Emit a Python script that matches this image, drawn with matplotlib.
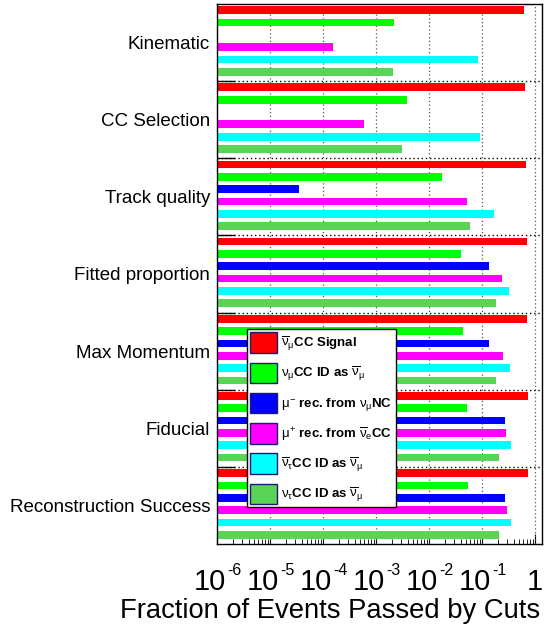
import matplotlib
matplotlib.use("Agg")
import matplotlib.pyplot as plt
from matplotlib.patches import Patch
import numpy as np

plt.rcParams['font.family'] = ['Liberation Sans', 'DejaVu Sans']
plt.rcParams['mathtext.fontset'] = 'custom'
plt.rcParams['mathtext.rm'] = 'Liberation Sans'
plt.rcParams['mathtext.it'] = 'Liberation Sans'
plt.rcParams['mathtext.bf'] = 'Liberation Sans:bold'

# ---- data ----
categories = ["Kinematic", "CC Selection", "Track quality", "Fitted proportion",
              "Max Momentum", "Fiducial", "Reconstruction Success"]

series_labels = [
    r"$\overline{\nu}_{\mu}$CC Signal",
    r"$\nu_{\mu}$CC ID as $\overline{\nu}_{\mu}$",
    r"$\mu^{-}$ rec. from $\nu_{\mu}$NC",
    r"$\mu^{+}$ rec. from $\overline{\nu}_{e}$CC",
    r"$\overline{\nu}_{\tau}$CC ID as $\overline{\nu}_{\mu}$",
    r"$\nu_{\tau}$CC ID as $\overline{\nu}_{\mu}$",
]
series_colors = ["#ff0000", "#00ff00", "#0000ff", "#ff00ff", "#00ffff", "#59d454"]

numu_bar_signal   = [0.62, 0.65, 0.68, 0.71, 0.70, 0.74, 0.74]
numu_cc_misid     = [0.0022, 0.0038, 0.0174, 0.040, 0.044, 0.052, 0.055]
mu_minus_nc       = [1.05e-6, 1.05e-6, 3.5e-5, 0.134, 0.134, 0.27, 0.27]
mu_plus_nuebar_cc = [1.55e-4, 5.9e-4, 0.052, 0.24, 0.25, 0.28, 0.30]
nutaubar_cc_misid = [0.083, 0.091, 0.17, 0.32, 0.34, 0.35, 0.35]
nutau_cc_misid    = [0.0021, 0.0031, 0.059, 0.18, 0.18, 0.21, 0.21]

series_values = [numu_bar_signal, numu_cc_misid, mu_minus_nc,
                 mu_plus_nuebar_cc, nutaubar_cc_misid, nutau_cc_misid]

xtick_values = [1e-6, 1e-5, 1e-4, 1e-3, 1e-2, 1e-1, 1]
xtick_bases = ["10", "10", "10", "10", "10", "10", "1"]
xtick_exponents = ["-6", "-5", "-4", "-3", "-2", "-1", ""]

# ---- figure ----
fig = plt.figure(figsize=(5.51, 6.34), dpi=100)
ax = fig.add_axes([217/551, 1 - 544/634, 325/551, 540/634])

xmin, xmax = 1e-6, 1.35
ax.set_xscale('log')
ax.set_xlim(xmin, xmax)
ax.set_ylim(len(categories), 0)

bar_h = 0.10
for k, (vals, col, lab) in enumerate(zip(series_values, series_colors, series_labels)):
    ypos = np.arange(len(categories)) + 0.08 + 0.16 * k
    widths = np.array(vals) - xmin
    ax.barh(ypos, widths, left=xmin, height=bar_h, color=col, edgecolor='none',
            zorder=2, label=lab)

# grid
ax.set_axisbelow(True)
for xv in xtick_values[1:]:
    ax.axvline(xv, color='#555555', linestyle=(0, (1, 2)), linewidth=0.9, zorder=1)
for yb in range(1, len(categories)):
    ax.axhline(yb, color='black', linestyle=(0, (1, 2)), linewidth=1.0, zorder=1)

# y ticks: labels at centres, tick marks at boundaries
ax.set_yticks(np.arange(len(categories)) + 0.5)
ax.set_yticklabels(categories, fontsize=13.5)
ax.tick_params(axis='y', which='major', length=0, pad=5)
ax.set_yticks(np.arange(1, len(categories)), minor=True)
ax.tick_params(axis='y', which='minor', direction='in', length=13, width=1.0,
               color='black', left=True, right=False)

# x ticks (labels drawn as base + small exponent, ROOT style)
ax.set_xticks(xtick_values)
ax.set_xticklabels([])
ax.tick_params(axis='x', which='major', direction='in', length=7, width=0.8,
               top=False)
ax.tick_params(axis='x', which='minor', direction='in', length=3.5, width=0.6,
               top=False)
ax.xaxis.set_minor_locator(matplotlib.ticker.LogLocator(base=10, subs=np.arange(2, 10), numticks=20))
ax.xaxis.set_minor_formatter(matplotlib.ticker.NullFormatter())

base_fs, exp_fs = 21, 11.5
base_dy = -33  # points from axes bottom to baseline
for xv, b, e in zip(xtick_values, xtick_bases, xtick_exponents):
    wb = 0.556 * base_fs * len(b)
    we = (0.333 + 0.556 * (len(e) - 1)) * exp_fs if e else 0.0
    tot = wb + we
    split = wb - tot / 2.0
    ax.annotate(b, xy=(xv, 0), xycoords=('data', 'axes fraction'),
                xytext=(split, base_dy), textcoords='offset points',
                ha='right', va='baseline', fontsize=base_fs, annotation_clip=False)
    if e:
        ax.annotate(e, xy=(xv, 0), xycoords=('data', 'axes fraction'),
                    xytext=(split + 0.5, base_dy + 0.62 * base_fs * 0.72 + 1),
                    textcoords='offset points',
                    ha='left', va='baseline', fontsize=exp_fs, annotation_clip=False)

fig.text(540/551, 1 - 618/634, "Fraction of Events Passed by Cuts",
         fontsize=19.7, ha='right', va='baseline')

for sp in ax.spines.values():
    sp.set_color('black')
    sp.set_linewidth(1.0)

# legend
handles = [Patch(facecolor=c, edgecolor='#1a1a6e', linewidth=1.0)
           for c in series_colors]
leg = ax.legend(handles, series_labels, loc='upper left',
                bbox_to_anchor=(0.092, 0.398), borderaxespad=0,
                prop={'weight': 'bold', 'size': 9.5},
                handlelength=2.05, handleheight=2.0, labelspacing=0.74,
                handletextpad=0.3, borderpad=0.25, fancybox=False,
                framealpha=1, edgecolor='black', frameon=True)
leg.get_frame().set_linewidth(1.0)
leg.set_zorder(5)

fig.savefig("out.png", dpi=100)
